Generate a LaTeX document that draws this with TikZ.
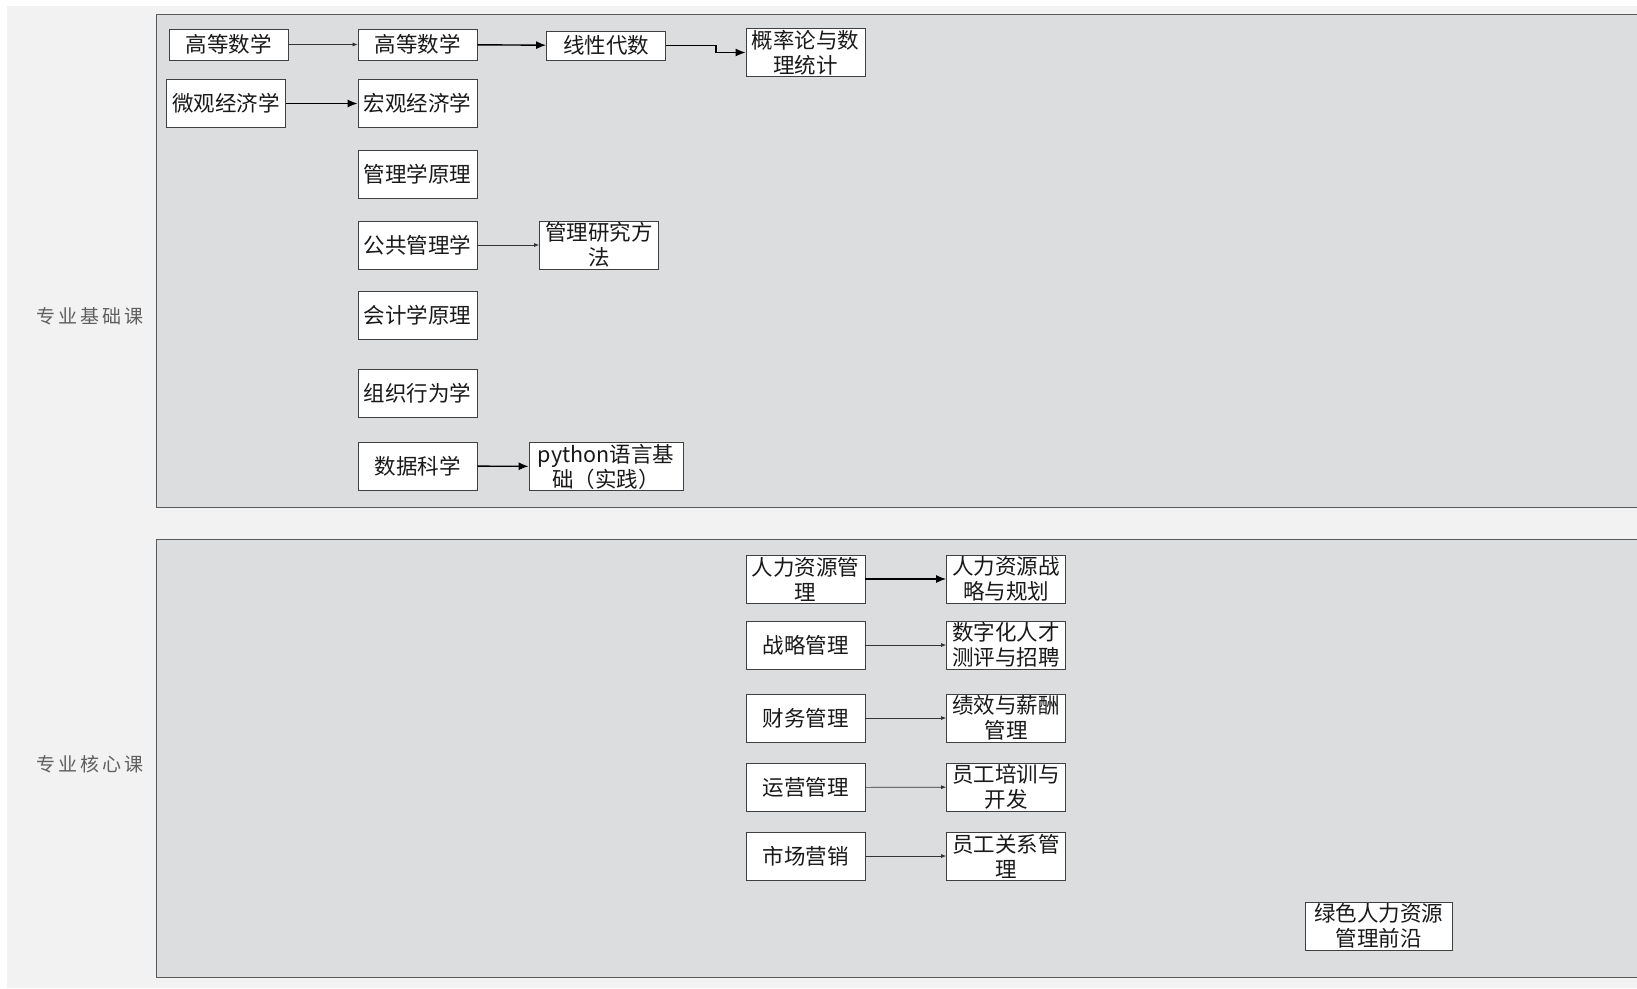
\documentclass[tikz,border=0pt]{standalone}
\usepackage{fontspec}
\setmainfont{Noto Sans CJK SC}
\usetikzlibrary{arrows,arrows.meta}
\definecolor{pagebg}{HTML}{F2F2F2}
\definecolor{panelbg}{HTML}{DCDDDF}
\definecolor{panelline}{HTML}{5A5A5A}
\definecolor{boxline}{HTML}{404040}
\definecolor{labelgray}{HTML}{5F5F5F}

\begin{document}
\begin{tikzpicture}
		[x=1pt,y=-1pt,every node/.style={draw=boxline,fill=white,line width=0.8pt,minimum width=119pt,minimum height=48pt,inner sep=1pt,align=center,text=black!90,font=\fontsize{21.5}{25}\selectfont},
		lbl/.style={draw=none,fill=none,text=labelgray,font=\fontsize{19}{23}\selectfont},
		edge/.style={-{Latex[length=5pt,width=4pt]},line width=0.7pt,black!80},
		bold edge/.style={-{Latex[length=10pt,width=8pt]},line width=1.4pt,black}]
		\useasboundingbox (0,0) rectangle (1637,988);
		\fill[pagebg] (7,6) rectangle (1637,988);
		% two swimlanes
		\fill[panelbg] (156,14) rectangle (1637,507);
		\draw[panelline,line width=0.9pt] (1640,14) -- (156,14) -- (156,507) -- (1640,507);
		\fill[panelbg] (156,539) rectangle (1637,977);
		\draw[panelline,line width=0.9pt] (1640,539) -- (156,539) -- (156,977) -- (1640,977);
		
		\node[lbl] (l1) at (90,316) {专\hspace{3pt}业\hspace{3pt}基\hspace{3pt}础\hspace{3pt}课};
		\node[lbl] (l2) at (90,764) {专\hspace{3pt}业\hspace{3pt}核\hspace{3pt}心\hspace{3pt}课};
		
		% basic courses
		\node[minimum height=31pt] (b1) at (228.5,44.5) {高等数学};
		\node[minimum height=31pt] (b2) at (417.5,44.5) {高等数学};
		\node[minimum height=29pt] (b3) at (606,45.5) {线性代数};
		\node (b4) at (805.5,52.5) {概率论与数\\理统计};
		\node (b5) at (226,103.5) {微观经济学};
		\node (b6) at (417.5,103.5) {宏观经济学};
		\node (b7) at (417.5,174) {管理学原理};
		\node (b8) at (417.5,245) {公共管理学};
		\node (b9) at (599,245) {管理研究方\\法};
		\node (b10) at (417.5,315) {会计学原理};
		\node (b11) at (417.5,393) {组织行为学};
		\node (b12) at (417.5,466) {数据科学};
		\node[minimum width=154pt] (b13) at (606,466.5) {python语言基\\础（实践）};
		
		% core courses
		\node (h1) at (805.5,579) {人力资源管\\理};
		\node (h2) at (1006,579) {人力资源战\\略与规划};
		\node (h3) at (805.5,645) {战略管理};
		\node (h4) at (1006,645) {数字化人才\\测评与招聘};
		\node (h5) at (805.5,718) {财务管理};
		\node (h6) at (1006,718) {绩效与薪酬\\管理};
		\node (h7) at (805.5,787.5) {运营管理};
		\node (h8) at (1006,787) {员工培训与\\开发};
		\node (h9) at (805.5,856) {市场营销};
		\node (h10) at (1006,856) {员工关系管\\理};
		\node[minimum width=147pt] (h11) at (1378.5,926) {绿色人力资源\\管理前沿};
		
		\foreach \from/\to in {b1/b2,b8/b9,h3/h4,h5/h6,h7/h8,h9/h10}
		\draw[edge] (\from) -- (\to);
		\foreach \from/\to in {b2/b3,b5/b6,b12/b13,h1/h2}
		\draw[bold edge] (\from) -- (\to);
		\draw[bold edge] (b3.east) -- ++(50,0) |- (b4.west);
		\end{tikzpicture}
\end{document}
